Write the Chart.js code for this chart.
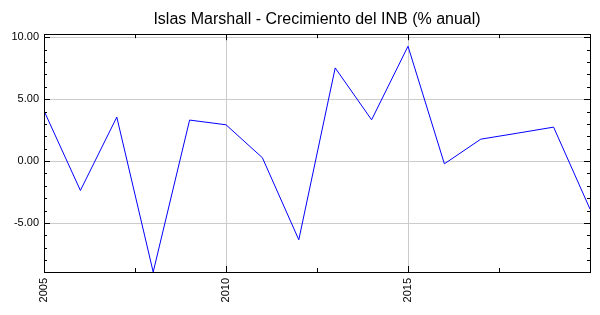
<!DOCTYPE html>
<html>
<head>
<meta charset="utf-8">
<script src="https://cdn.jsdelivr.net/npm/chart.js@4"></script>
<style>
  body { margin: 0; background: #fff; }
  #wrap { width: 600px; height: 315px; }
</style>
</head>
<body>
<div id="wrap"><canvas id="gniChart" width="600" height="315"></canvas></div>
<script>
const years = [2005, 2006, 2007, 2008, 2009, 2010, 2011, 2012, 2013, 2014, 2015, 2016, 2017, 2018, 2019, 2020];
const growth = [4.06, -2.37, 3.55, -8.95, 3.31, 2.93, 0.27, -6.35, 7.52, 3.33, 9.27, -0.22, 1.77, 2.25, 2.74, -3.87];
const yTicks = [-5, 0, 5, 10];
const xTicks = [2005, 2010, 2015];

// frame plus small inward ticks on all four sides
const frameTicks = {
    id: 'frameTicks',
    afterDraw(chart) {
        const { ctx, chartArea: a, scales: { x, y } } = chart;
        ctx.save();
        ctx.strokeStyle = '#000';
        ctx.lineWidth = 1;
        ctx.beginPath();
        for (let v = -8; v <= 10; v++) {
            const py = Math.round(y.getPixelForValue(v)) + 0.5;
            const len = v % 5 === 0 ? 6 : 3;
            ctx.moveTo(a.left, py); ctx.lineTo(a.left + len, py);
            ctx.moveTo(a.right, py); ctx.lineTo(a.right - len, py);
        }
        for (let v = 2007.5; v < 2020; v += 2.5) {
            const px = Math.round(x.getPixelForValue(v)) + 0.5;
            const len = v % 5 === 0 ? 6 : 4;
            ctx.moveTo(px, a.top); ctx.lineTo(px, a.top + len);
            ctx.moveTo(px, a.bottom); ctx.lineTo(px, a.bottom - len);
        }
        ctx.stroke();
        ctx.strokeRect(Math.round(a.left) + 0.5, Math.round(a.top) + 0.5,
            Math.round(a.right - a.left), Math.round(a.bottom - a.top));
        ctx.restore();
    }
};

new Chart(document.getElementById('gniChart').getContext('2d'), {
    type: 'line',
    data: {
        labels: years,
        datasets: [{
            data: years.map((yr, i) => ({ x: yr, y: growth[i] })),
            borderColor: '#0000ff',
            borderWidth: 1,
            pointRadius: 0,
            tension: 0,
            fill: false
        }]
    },
    options: {
        responsive: false,
        animation: false,
        layout: { padding: { left: 0, right: 10, top: 0, bottom: 0 } },
        plugins: {
            legend: { display: false },
            tooltip: { enabled: false },
            title: {
                display: true,
                fullSize: false,
                text: 'Islas Marshall - Crecimiento del INB (% anual)',
                color: '#000',
                font: { family: 'Liberation Sans, Arial, sans-serif', size: 16, weight: 'normal' },
                padding: { top: 10, bottom: 5 }
            }
        },
        scales: {
            x: {
                type: 'linear',
                min: 2005,
                max: 2020,
                afterBuildTicks: s => { s.ticks = xTicks.map(v => ({ value: v })); },
                afterFit: s => { s.height = 43; },
                ticks: {
                    color: '#000',
                    font: { family: 'Liberation Sans, Arial, sans-serif', size: 11 },
                    minRotation: 90,
                    maxRotation: 90,
                    padding: 6,
                    callback: v => String(v)
                },
                grid: {
                    color: c => (c.tick && (c.tick.value === 2010 || c.tick.value === 2015)) ? '#cccccc' : 'rgba(0,0,0,0)',
                    drawTicks: false
                },
                border: { display: false }
            },
            y: {
                min: -8.95,
                max: 10.24,
                afterBuildTicks: s => { s.ticks = yTicks.map(v => ({ value: v })); },
                afterFit: s => { s.width = 44; },
                ticks: {
                    color: '#000',
                    font: { family: 'Liberation Sans, Arial, sans-serif', size: 11 },
                    padding: 5,
                    callback: v => v.toFixed(2)
                },
                grid: { color: '#cccccc', drawTicks: false },
                border: { display: false }
            }
        }
    },
    plugins: [frameTicks]
});
</script>
</body>
</html>
